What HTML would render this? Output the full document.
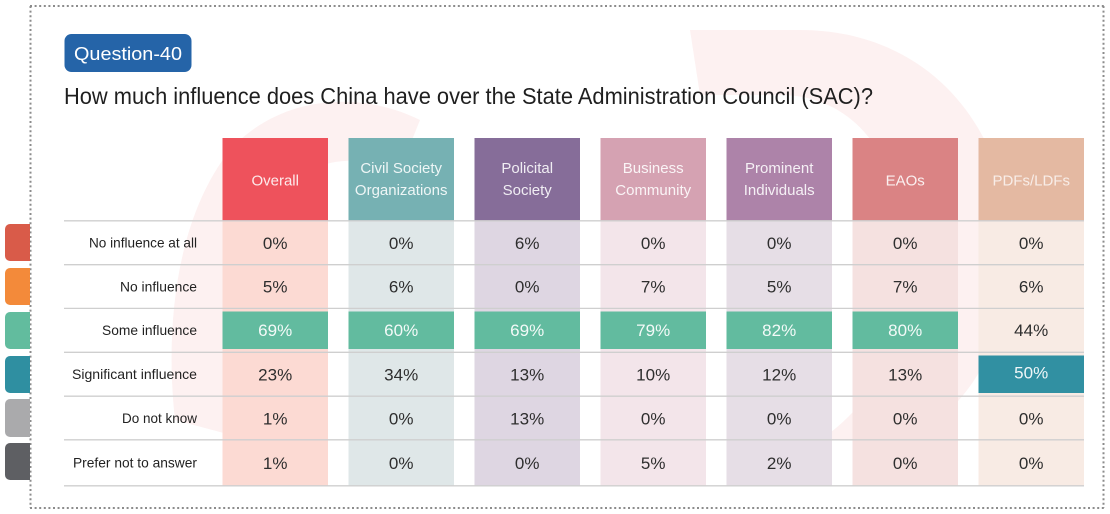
<!DOCTYPE html>
<html>
<head>
<meta charset="utf-8">
<style>
html,body{margin:0;padding:0;background:#fff;}
svg{display:block;}
text{font-family:"Liberation Sans",Arial,sans-serif;}
</style>
</head>
<body>
<svg width="1110" height="514" viewBox="0 0 1110 514" xmlns="http://www.w3.org/2000/svg">
<rect x="0" y="0" width="1110" height="514" fill="#fff"/>

<!-- faint watermark -->
<g fill="#fdf1f1">
  <path d="M690 30 L800 30 C930 30 1010 130 1010 250 C1010 350 960 420 900 440 L820 440 C880 400 910 330 905 250 C900 150 850 95 780 95 L700 95 Z"/>
  <path d="M175 420 C165 330 175 220 230 150 C280 95 360 90 420 120 L400 170 C350 150 290 160 260 220 C235 280 240 360 250 440 Z"/>
</g>

<!-- dotted border -->
<g stroke="#8c8c8c" stroke-width="2" stroke-dasharray="2 2.6" fill="none">
  <line x1="30" y1="6" x2="1104" y2="6"/>
  <line x1="30" y1="508" x2="1104" y2="508"/>
  <line x1="30.5" y1="6" x2="30.5" y2="508"/>
  <line x1="1103.5" y1="6" x2="1103.5" y2="508"/>
</g>

<!-- left tabs -->
<path d="M30 224 H10 a5 5 0 0 0 -5 5 V256 a5 5 0 0 0 5 5 H30 Z" fill="#D95B49"/>
<path d="M30 268 H10 a5 5 0 0 0 -5 5 V300 a5 5 0 0 0 5 5 H30 Z" fill="#F38A3A"/>
<path d="M30 312 H10 a5 5 0 0 0 -5 5 V344 a5 5 0 0 0 5 5 H30 Z" fill="#62BC9E"/>
<path d="M30 356 H10 a5 5 0 0 0 -5 5 V388 a5 5 0 0 0 5 5 H30 Z" fill="#2F8FA1"/>
<path d="M30 399 H10 a5 5 0 0 0 -5 5 V432 a5 5 0 0 0 5 5 H30 Z" fill="#AAAAAC"/>
<path d="M30 443 H10 a5 5 0 0 0 -5 5 V475 a5 5 0 0 0 5 5 H30 Z" fill="#5E5F63"/>

<!-- badge -->
<rect x="64.5" y="34" width="127" height="38" rx="7" fill="#2564A8"/>
<text x="74" y="60" font-size="18.5" fill="#fff" textLength="108" lengthAdjust="spacingAndGlyphs">Question-40</text>

<!-- title -->
<text x="64" y="104" font-size="23" fill="#1f1f1f" textLength="809" lengthAdjust="spacingAndGlyphs">How much influence does China have over the State Administration Council (SAC)?</text>

<!-- column backgrounds -->
<rect x="222.5" y="221" width="105.5" height="265" fill="#FCDAD3"/>
<rect x="348.5" y="221" width="105.5" height="265" fill="#DFE7E8"/>
<rect x="474.5" y="221" width="105.5" height="265" fill="#DED6E2"/>
<rect x="600.5" y="221" width="105.5" height="265" fill="#F3E5EA"/>
<rect x="726.5" y="221" width="105.5" height="265" fill="#E6DEE6"/>
<rect x="852.5" y="221" width="105.5" height="265" fill="#F5E1E0"/>
<rect x="978.5" y="221" width="105.5" height="265" fill="#F8EBE4"/>

<!-- headers -->
<rect x="222.5" y="138" width="105.5" height="83" fill="#EE525C"/>
<rect x="348.5" y="138" width="105.5" height="83" fill="#76B1B3"/>
<rect x="474.5" y="138" width="105.5" height="83" fill="#866D99"/>
<rect x="600.5" y="138" width="105.5" height="83" fill="#D5A2B2"/>
<rect x="726.5" y="138" width="105.5" height="83" fill="#AD83A9"/>
<rect x="852.5" y="138" width="105.5" height="83" fill="#DA8384"/>
<rect x="978.5" y="138" width="105.5" height="83" fill="#E4B9A2"/>

<g font-size="15" fill="#ffffff" fill-opacity="0.88" text-anchor="middle">
  <text x="275.2" y="185.5">Overall</text>
  <text x="401.2" y="173">Civil Society</text>
  <text x="401.2" y="195">Organizations</text>
  <text x="527.2" y="173">Policital</text>
  <text x="527.2" y="195">Society</text>
  <text x="653.2" y="173">Business</text>
  <text x="653.2" y="195">Community</text>
  <text x="779.2" y="173">Prominent</text>
  <text x="779.2" y="195">Individuals</text>
  <text x="905.2" y="185.5">EAOs</text>
  <text x="1031.2" y="185.5" fill-opacity="0.75">PDFs/LDFs</text>
</g>

<!-- highlighted cells -->
<g fill="#62BB9F">
  <rect x="222.5" y="311.5" width="105.5" height="37.5"/>
  <rect x="348.5" y="311.5" width="105.5" height="37.5"/>
  <rect x="474.5" y="311.5" width="105.5" height="37.5"/>
  <rect x="600.5" y="311.5" width="105.5" height="37.5"/>
  <rect x="726.5" y="311.5" width="105.5" height="37.5"/>
  <rect x="852.5" y="311.5" width="105.5" height="37.5"/>
</g>
<rect x="978.5" y="355.5" width="105.5" height="37.5" fill="#3190A2"/>

<!-- row lines -->
<g stroke="#cfcfcf" stroke-width="1.3">
  <line x1="64" y1="220.8" x2="1084" y2="220.8"/>
  <line x1="64" y1="264.7" x2="1084" y2="264.7"/>
  <line x1="64" y1="308.4" x2="1084" y2="308.4"/>
  <line x1="64" y1="352.3" x2="1084" y2="352.3"/>
  <line x1="64" y1="396.2" x2="1084" y2="396.2"/>
  <line x1="64" y1="439.8" x2="1084" y2="439.8"/>
  <line x1="64" y1="485.8" x2="1084" y2="485.8"/>
</g>

<!-- row labels -->
<g font-size="14" fill="#222" text-anchor="end">
  <text x="197" y="247.5" textLength="108" lengthAdjust="spacingAndGlyphs">No influence at all</text>
  <text x="197" y="291.5" textLength="77" lengthAdjust="spacingAndGlyphs">No influence</text>
  <text x="197" y="335" textLength="95" lengthAdjust="spacingAndGlyphs">Some influence</text>
  <text x="197" y="379" textLength="125" lengthAdjust="spacingAndGlyphs">Significant influence</text>
  <text x="197" y="423" textLength="75" lengthAdjust="spacingAndGlyphs">Do not know</text>
  <text x="197" y="467.5" textLength="124" lengthAdjust="spacingAndGlyphs">Prefer not to answer</text>
</g>

<!-- values -->
<g font-size="17" fill="#2e2e2e" text-anchor="middle">
  <!-- row1 -->
  <text x="275.2" y="249">0%</text><text x="401.2" y="249">0%</text><text x="527.2" y="249">6%</text><text x="653.2" y="249">0%</text><text x="779.2" y="249">0%</text><text x="905.2" y="249">0%</text><text x="1031.2" y="249">0%</text>
  <!-- row2 -->
  <text x="275.2" y="292.5">5%</text><text x="401.2" y="292.5">6%</text><text x="527.2" y="292.5">0%</text><text x="653.2" y="292.5">7%</text><text x="779.2" y="292.5">5%</text><text x="905.2" y="292.5">7%</text><text x="1031.2" y="292.5">6%</text>
  <!-- row3 -->
  <g fill="#ffffff" fill-opacity="0.92">
  <text x="275.2" y="336">69%</text><text x="401.2" y="336">60%</text><text x="527.2" y="336">69%</text><text x="653.2" y="336">79%</text><text x="779.2" y="336">82%</text><text x="905.2" y="336">80%</text>
  </g>
  <text x="1031.2" y="336">44%</text>
  <!-- row4 -->
  <text x="275.2" y="380.5">23%</text><text x="401.2" y="380.5">34%</text><text x="527.2" y="380.5">13%</text><text x="653.2" y="380.5">10%</text><text x="779.2" y="380.5">12%</text><text x="905.2" y="380.5">13%</text>
  <text x="1031.2" y="378.5" fill="#ffffff" fill-opacity="0.92">50%</text>
  <!-- row5 -->
  <text x="275.2" y="424.5">1%</text><text x="401.2" y="424.5">0%</text><text x="527.2" y="424.5">13%</text><text x="653.2" y="424.5">0%</text><text x="779.2" y="424.5">0%</text><text x="905.2" y="424.5">0%</text><text x="1031.2" y="424.5">0%</text>
  <!-- row6 -->
  <text x="275.2" y="469">1%</text><text x="401.2" y="469">0%</text><text x="527.2" y="469">0%</text><text x="653.2" y="469">5%</text><text x="779.2" y="469">2%</text><text x="905.2" y="469">0%</text><text x="1031.2" y="469">0%</text>
</g>
</svg>
</body>
</html>
